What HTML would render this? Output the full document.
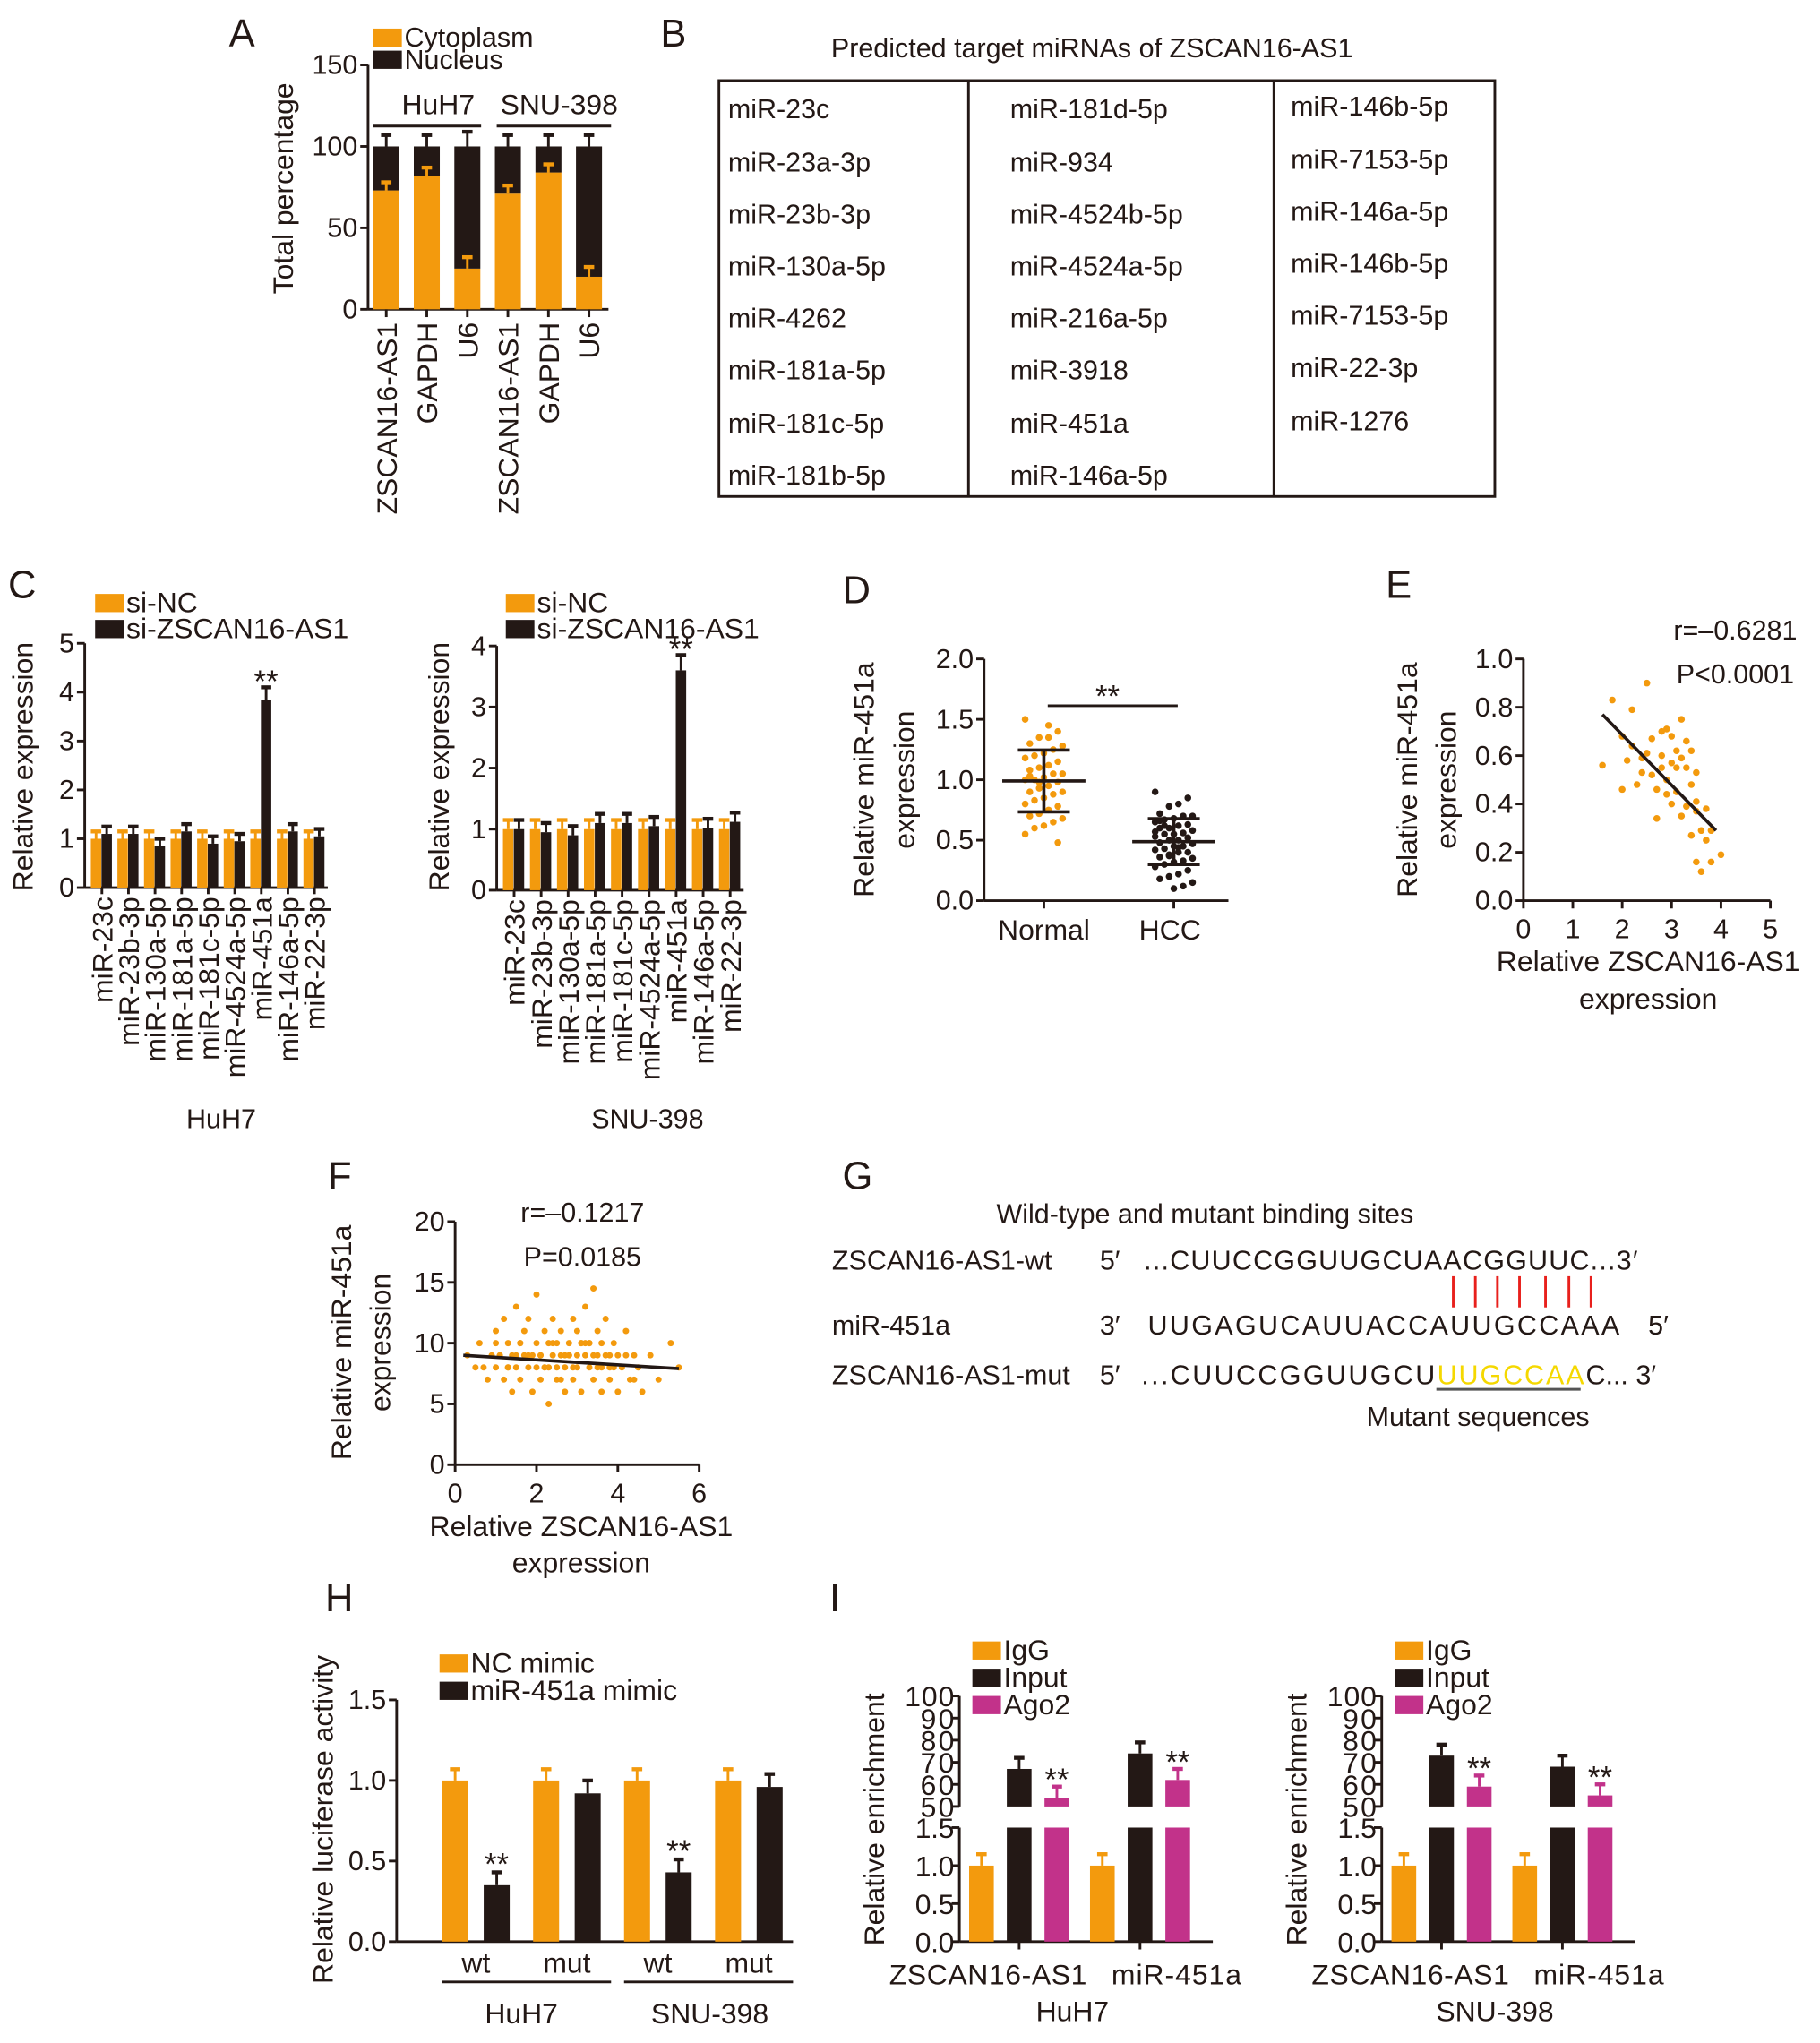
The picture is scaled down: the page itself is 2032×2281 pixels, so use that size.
<!DOCTYPE html>
<html><head><meta charset="utf-8"><style>
html,body{margin:0;padding:0;background:#fff}
svg{display:block}
text{font-family:"Liberation Sans",Arial,sans-serif;fill:#231815}
.t{font-size:21px}.s{font-size:20px}.L{font-size:30px}
</style></head><body>
<svg id="fig" xmlns="http://www.w3.org/2000/svg" width="2032" height="2281" viewBox="0 0 1400 1572">
<rect width="1400" height="1572" fill="#fff"/>
<text class="L" x="176" y="36">A</text>
<text class="L" x="508" y="36">B</text>
<text class="L" x="6" y="460">C</text>
<text class="L" x="648" y="464">D</text>
<text class="L" x="1066" y="460">E</text>
<text class="L" x="252" y="915">F</text>
<text class="L" x="648" y="915">G</text>
<text class="L" x="250" y="1240">H</text>
<text class="L" x="638" y="1240">I</text>

<g>
<text class="t" x="840" y="44" text-anchor="middle">Predicted target miRNAs of ZSCAN16-AS1</text>
<rect x="553" y="62" width="597" height="320" fill="none" stroke="#231815" stroke-width="2"/>
<line x1="745" y1="62" x2="745" y2="382" stroke="#231815" stroke-width="2"/>
<line x1="980" y1="62" x2="980" y2="382" stroke="#231815" stroke-width="2"/>
</g>

<g>
<text class="t" x="927" y="941" text-anchor="middle">Wild-type and mutant binding sites</text>
<text class="t" x="640" y="977">ZSCAN16-AS1-wt</text><text class="t" x="846" y="977">5′</text>
<text class="t" x="880" y="977" textLength="380">...CUUCCGGUUGCUAACGGUUC...3′</text>
<text class="t" x="640" y="1027">miR-451a</text><text class="t" x="846" y="1027">3′</text>
<text class="t" x="883" y="1027" textLength="363">UUGAGUCAUUACCAUUGCCAAA</text><text class="t" x="1268" y="1027">5′</text>
<text class="t" x="640" y="1065">ZSCAN16-AS1-mut</text><text class="t" x="846" y="1065">5′</text>
<text class="t" x="878" y="1065"><tspan textLength="226">...CUUCCGGUUGCU</tspan><tspan style="fill:#f5d800" textLength="113">UUGCCAA</tspan><tspan>C... 3′</tspan></text>
<line x1="1105" y1="1069" x2="1216" y2="1069" stroke="#555" stroke-width="2"/>
<text class="t" x="1137" y="1097" text-anchor="middle">Mutant sequences</text>
<g stroke="#e8201c" stroke-width="2">
<line x1="1118" y1="982" x2="1118" y2="1006"/><line x1="1135" y1="982" x2="1135" y2="1006"/><line x1="1152" y1="982" x2="1152" y2="1006"/><line x1="1169" y1="982" x2="1169" y2="1006"/><line x1="1189" y1="982" x2="1189" y2="1006"/><line x1="1207" y1="982" x2="1207" y2="1006"/><line x1="1224" y1="982" x2="1224" y2="1006"/>
</g>
</g>
</svg>
<script>
const NS='http://www.w3.org/2000/svg';
const svg=document.getElementById('fig');
const OR='#f39a0d',BK='#231815',MG='#c2328a';
function mk(tag,a,p){const e=document.createElementNS(NS,tag);for(const k in a)e.setAttribute(k,a[k]);(p||svg).appendChild(e);return e;}
function tx(x,y,s,a,p){const e=mk('text',Object.assign({x:x,y:y},a||{}),p);e.textContent=s;return e;}
function ln(x1,y1,x2,y2,c,w,p){return mk('line',{x1,y1,x2,y2,stroke:c||BK,'stroke-width':w||2},p);}
function yAxis(g,x,sc,ticks,labels,y0,y1){ln(x,y0,x,y1,BK,2,g);ticks.forEach((t,i)=>{const y=sc(t);ln(x-6,y,x,y,BK,2,g);tx(x-8,y+7,labels[i],{'text-anchor':'end','font-size':21},g);});}
function bar(g,cx,w,y0,y,c){return mk('rect',{x:cx-w/2,y:Math.min(y,y0),width:w,height:Math.abs(y0-y),fill:c},g);}
function err(g,cx,y,y2,c){ln(cx,y,cx,y2,c,2,g);ln(cx-4,y2,cx+4,y2,c,3,g);}
function vtitle(g,x,y,s){return tx(x,y,s,{transform:`rotate(-90 ${x} ${y})`,'text-anchor':'middle','font-size':22},g);}
function legend(g,x,y,c,s,fs){mk('rect',{x:x,y:y-13,width:22,height:14,fill:c},g);tx(x+24,y+1,s,{'font-size':fs||21},g);}

// ===== Panel A =====
const aCats=['ZSCAN16-AS1','GAPDH','U6','ZSCAN16-AS1','GAPDH','U6'];
const aCyto=[73,82,25,71,84,20];
const aCytoErr=[5,5,7,5,5,6];
const aNucErr=[7,7,9,7,7,7];
const aTicks=[0,50,100,150];
const gA=mk('g',{});


const yA=v=>238-v*188/150;
yAxis(gA,283,yA,aTicks,aTicks.map(String),238,50);
ln(283,238,468,238,BK,2,gA);
aCats.forEach((c,i)=>{const cx=297+i*31.2;
 const b1=bar(gA,cx,20,yA(0),yA(aCyto[i]),OR);
 
 
 const b2=bar(gA,cx,20,yA(aCyto[i]),yA(100),BK);
 
 
 err(gA,cx,yA(aCyto[i]),yA(aCyto[i]+aCytoErr[i]),OR);
 err(gA,cx,yA(100),yA(100+aNucErr[i]),BK);
 ln(cx,238,cx,244,BK,2,gA);
 const t=tx(cx+8,248,c,{'text-anchor':'end','font-size':22,transform:`rotate(-90 ${cx+8} 248)`},gA);
 
 
});
ln(287,97,370,97,BK,2,gA);ln(382,97,470,97,BK,2,gA);
tx(337,88,'HuH7',{'text-anchor':'middle','font-size':22},gA);tx(430,88,'SNU-398',{'text-anchor':'middle','font-size':22},gA);
legend(gA,287,35,OR,'Cytoplasm');legend(gA,287,52,BK,'Nucleus');
vtitle(gA,225,145,'Total percentage');

// ===== Panel B =====
const bCol1=['miR-23c','miR-23a-3p','miR-23b-3p','miR-130a-5p','miR-4262','miR-181a-5p','miR-181c-5p','miR-181b-5p'];
const bCol2=['miR-181d-5p','miR-934','miR-4524b-5p','miR-4524a-5p','miR-216a-5p','miR-3918','miR-451a','miR-146a-5p'];
const bCol3=['miR-146b-5p','miR-7153-5p','miR-146a-5p','miR-146b-5p','miR-7153-5p','miR-22-3p','miR-1276'];
const rowsY=[91,132,172,212,252,292,333,373];
[[bCol1,560],[bCol2,777],[bCol3,993]].forEach(([col,x])=>col.forEach((s,i)=>{
 const t=tx(x,rowsY[i]-(x===993?2:0),s,{'font-size':21});
 
 
}));

// ===== Panel C =====
const cCats=['miR-23c','miR-23b-3p','miR-130a-5p','miR-181a-5p','miR-181c-5p','miR-4524a-5p','miR-451a','miR-146a-5p','miR-22-3p'];
const cLNC=[1.0,1.0,1.0,1.0,1.0,1.0,1.0,1.0,1.0];
const cLsi=[1.1,1.1,0.85,1.15,0.9,0.95,3.85,1.15,1.05];
const cRNC=[1.0,1.0,1.0,1.0,1.0,1.0,1.0,1.0,1.0];
const cRsi=[1.0,0.95,0.9,1.1,1.1,1.05,3.6,1.02,1.12];
const cLTicks=[0,1,2,3,4,5],cRTicks=[0,1,2,3,4];
function panelC(name,ax,y0,ymax,pxPer,ticks,nc,si,x0,x1,leg){
 const g=mk('g',{});
 
 
 const sc=v=>y0-v*pxPer;
 yAxis(g,ax,sc,ticks,ticks.map(String),y0,sc(ymax));
 ln(ax,y0,x1,y0,BK,2,g);
 const gw=(x1-x0)/cCats.length;
 cCats.forEach((c,i)=>{const gx=x0+i*gw;
  const b1=bar(g,gx+gw*0.28,8,y0,sc(nc[i]),OR);
  
  
  err(g,gx+gw*0.28,sc(nc[i]),sc(nc[i]+0.15),OR);
  const b2=bar(g,gx+gw*0.68,8,y0,sc(si[i]),BK);
  
  
  err(g,gx+gw*0.68,sc(si[i]),sc(si[i]+(si[i]>2?0.25:0.15)),BK);
  if(si[i]>2)tx(gx+gw*0.68,sc(si[i]+0.25)+4,'**',{'text-anchor':'middle','font-size':24},g);
  const cx=gx+gw*0.5;ln(cx,y0,cx,y0+5,BK,2,g);
  tx(cx+8,y0+7,c,{'text-anchor':'end','font-size':22,transform:`rotate(-90 ${cx+8} ${y0+7})`},g);
 });
 legend(g,leg,470,OR,'si-NC',22);legend(g,leg,490,BK,'si-ZSCAN16-AS1',22);
 return g;
}
const gCL=panelC('panel-c-huh7-chart',65,683,5,37.6,cLTicks,cLNC,cLsi,68,252,73);
vtitle(gCL,25,590,'Relative expression');tx(170,868,'HuH7',{'text-anchor':'middle','font-size':21},gCL);
const gCR=panelC('panel-c-snu398-chart',382,685,4,47,cRTicks,cRNC,cRsi,385,572,389);
vtitle(gCR,345,590,'Relative expression');tx(498,868,'SNU-398',{'text-anchor':'middle','font-size':21},gCR);

// ===== Panel D =====
const dNormal=[1.5,1.4,1.35,1.35,1.3,1.28,1.25,1.22,1.2,1.18,1.15,1.12,1.1,1.08,1.05,1.05,1.02,1.0,1.0,0.98,0.95,0.93,0.9,0.9,0.88,0.85,0.83,0.8,0.78,0.75,0.72,0.7,0.68,0.65,0.62,0.6,0.55,0.48,1.45,0.98,1.03];
const dHCC=[0.9,0.85,0.8,0.78,0.72,0.7,0.7,0.68,0.67,0.65,0.63,0.62,0.6,0.6,0.58,0.56,0.55,0.55,0.53,0.52,0.5,0.5,0.48,0.47,0.45,0.45,0.43,0.42,0.4,0.4,0.38,0.36,0.35,0.33,0.32,0.3,0.28,0.25,0.22,0.2,0.18,0.15,0.12,0.1,0.62,0.57,0.52,0.44,0.37,0.66];
const dTicks=[0,0.5,1,1.5,2];
const gD=mk('g',{});


const yD=v=>693-v*93;
yAxis(gD,757,yD,dTicks,['0.0','0.5','1.0','1.5','2.0'],693,yD(2));
ln(757,693,945,693,BK,2,gD);
function swarm(vals,cx,c,nm){const mean=vals.reduce((a,b)=>a+b,0)/vals.length;
 const sd=Math.sqrt(vals.reduce((a,b)=>a+(b-mean)**2,0)/vals.length);
 vals.forEach((v,i)=>{const off=((i*7)%9-4)*3.6;
  const p=mk('circle',{cx:cx+off,cy:yD(v),r:2.6,fill:c},gD);
  
  });
 ln(cx-32,yD(mean),cx+32,yD(mean),BK,2.5,gD);
 ln(cx,yD(mean-sd),cx,yD(mean+sd),BK,2.5,gD);
 ln(cx-20,yD(mean-sd),cx+20,yD(mean-sd),BK,2.5,gD);
 ln(cx-20,yD(mean+sd),cx+20,yD(mean+sd),BK,2.5,gD);
}
swarm(dNormal,803,OR,'point-normal');swarm(dHCC,903,BK,'point-hcc');
ln(806,543,906,543,BK,2,gD);tx(852,544,'**',{'text-anchor':'middle','font-size':24},gD);
ln(803,693,803,699,BK,2,gD);ln(903,693,903,699,BK,2,gD);
tx(803,723,'Normal',{'text-anchor':'middle','font-size':22},gD);tx(900,723,'HCC',{'text-anchor':'middle','font-size':22},gD);
vtitle(gD,672,600,'Relative miR-451a');vtitle(gD,703,600,'expression');

// ===== Panel E =====
const eX=[1.6,1.8,2.0,2.0,2.1,2.2,2.2,2.3,2.4,2.5,2.5,2.6,2.6,2.7,2.7,2.8,2.8,2.8,2.9,2.9,2.9,3.0,3.0,3.0,3.1,3.1,3.1,3.2,3.2,3.2,3.3,3.3,3.3,3.4,3.4,3.5,3.5,3.5,3.6,3.6,3.7,3.7,3.8,3.8,4.0,3.4,3.5,2.4];
const eY=[0.56,0.83,0.46,0.68,0.58,0.79,0.64,0.48,0.53,0.9,0.61,0.67,0.52,0.46,0.34,0.7,0.6,0.55,0.71,0.5,0.44,0.68,0.57,0.4,0.62,0.55,0.45,0.75,0.59,0.35,0.66,0.55,0.39,0.48,0.27,0.53,0.16,0.37,0.12,0.29,0.25,0.38,0.16,0.29,0.19,0.62,0.41,0.59];
const eFit=[1.6,0.77,3.9,0.29];
const eXT=[0,1,2,3,4,5],eYT=[0,0.2,0.4,0.6,0.8,1.0];
const gE=mk('g',{});


const xE=v=>1172+v*38,yE=v=>693-v*186;
yAxis(gE,1172,yE,eYT,['0.0','0.2','0.4','0.6','0.8','1.0'],693,yE(1));
ln(1172,693,xE(5),693,BK,2,gE);
eXT.forEach(t=>{ln(xE(t),693,xE(t),699,BK,2,gE);tx(xE(t),722,String(t),{'text-anchor':'middle','font-size':21},gE);});
eX.forEach((x,i)=>{const p=mk('circle',{cx:xE(x),cy:yE(eY[i]),r:2.6,fill:OR},gE);
 
 });
ln(xE(eFit[0]),yE(eFit[1]),xE(eFit[2]),yE(eFit[3]),BK,2.5,gE);
tx(1335,492,'r=–0.6281',{'text-anchor':'middle','font-size':21},gE);tx(1335,526,'P<0.0001',{'text-anchor':'middle','font-size':21},gE);
vtitle(gE,1090,600,'Relative miR-451a');vtitle(gE,1120,600,'expression');
tx(1268,747,'Relative ZSCAN16-AS1',{'text-anchor':'middle','font-size':22},gE);tx(1268,776,'expression',{'text-anchor':'middle','font-size':22},gE);

// ===== Panel F =====
const fX=[0.3,0.5,0.6,0.8,0.9,1.0,1.0,1.1,1.2,1.2,1.3,1.3,1.4,1.4,1.5,1.5,1.6,1.6,1.7,1.7,1.8,1.8,1.9,1.9,2.0,2.0,2.0,2.1,2.1,2.2,2.2,2.3,2.3,2.4,2.4,2.5,2.5,2.5,2.6,2.6,2.7,2.7,2.8,2.8,2.9,2.9,3.0,3.0,3.0,3.1,3.1,3.2,3.2,3.3,3.3,3.4,3.4,3.5,3.5,3.5,3.6,3.6,3.7,3.7,3.8,3.8,3.9,4.0,4.0,4.1,4.2,4.3,4.4,4.5,4.6,4.8,5.0,5.3,5.5,1.0,1.5,2.2,2.7,3.2,3.6,1.8,2.4,2.9,3.4,1.3,2.1,2.6,3.1,3.8,4.2,0.7,1.1,1.6,2.3,2.8,3.3,3.9,4.4];
const fY=[9,8,10,7,9,11,8,9,12,7,10,8,9,6,13,8,10,7,9,11,8,12,9,6,10,8,14,9,7,11,8,10,5,9,12,8,10,7,9,11,8,6,10,9,12,7,9,11,8,10,6,9,13,8,10,7,14.5,9,11,8,10,6,9,12,8,7,10,9,6,8,11,7,9,8,6,9,7,10,8,10,9,8,9,10,8,9,10,8,9,8,9,7,10,9,9,8,9,10,8,9,10,8,7];
const fFit=[0.2,9.0,5.5,7.9];
const fXT=[0,2,4,6],fYT=[0,5,10,15,20];
const gF=mk('g',{});


const xF=v=>350+v*31.3,yF=v=>1127-v*9.35;
yAxis(gF,350,yF,fYT,fYT.map(String),1127,yF(20));
ln(350,1127,xF(6),1127,BK,2,gF);
fXT.forEach(t=>{ln(xF(t),1127,xF(t),1133,BK,2,gF);tx(xF(t),1156,String(t),{'text-anchor':'middle','font-size':21},gF);});
fX.forEach((x,i)=>{const p=mk('circle',{cx:xF(x),cy:yF(fY[i]),r:2.4,fill:OR},gF);
 
 });
ln(xF(fFit[0]),yF(fFit[1]),xF(fFit[2]),yF(fFit[3]),BK,2.5,gF);
tx(448,940,'r=–0.1217',{'text-anchor':'middle','font-size':21},gF);tx(448,974,'P=0.0185',{'text-anchor':'middle','font-size':21},gF);
vtitle(gF,270,1033,'Relative miR-451a');vtitle(gF,300,1033,'expression');
tx(447,1182,'Relative ZSCAN16-AS1',{'text-anchor':'middle','font-size':22},gF);tx(447,1210,'expression',{'text-anchor':'middle','font-size':22},gF);

// ===== Panel H =====
const hCats=['wt','mut','wt','mut'];
const hNC=[1.0,1.0,1.0,1.0];
const hMimic=[0.35,0.92,0.43,0.96];
const hTicks=[0,0.5,1,1.5];
const gH=mk('g',{});


const yH=v=>1494-v*124;
yAxis(gH,305,yH,hTicks,['0.0','0.5','1.0','1.5'],1494,yH(1.5));
ln(305,1494,610,1494,BK,2,gH);
hCats.forEach((c,i)=>{const gx=350+i*70;
 const b1=bar(gH,gx,20,1494,yH(hNC[i]),OR);
 
 
 err(gH,gx,yH(hNC[i]),yH(hNC[i]+0.07),OR);
 const b2=bar(gH,gx+32,20,1494,yH(hMimic[i]),BK);
 
 
 err(gH,gx+32,yH(hMimic[i]),yH(hMimic[i]+0.08),BK);
 if(hMimic[i]<0.6)tx(gx+32,yH(hMimic[i]+0.08)+2,'**',{'text-anchor':'middle','font-size':24},gH);
 tx(gx+16,1518,c,{'text-anchor':'middle','font-size':22},gH);
});
ln(340,1525,470,1525,BK,2,gH);ln(480,1525,610,1525,BK,2,gH);
tx(401,1557,'HuH7',{'text-anchor':'middle','font-size':22},gH);tx(546,1557,'SNU-398',{'text-anchor':'middle','font-size':22},gH);
legend(gH,338,1286,OR,'NC mimic',22);legend(gH,338,1307,BK,'miR-451a mimic',22);
vtitle(gH,256,1400,'Relative luciferase activity');

// ===== Panel I =====
const iCats=['ZSCAN16-AS1','miR-451a'];
const iHuIgG=[1.0,1.0],iHuInput=[67,74],iHuAgo2=[54,62];
const iSnIgG=[1.0,1.0],iSnInput=[73,68],iSnAgo2=[59,55];
const iLowT=[0,0.5,1,1.5],iHighT=[50,60,70,80,90,100];
function panelI(name,ax,igg,inp,ago){
 const g=mk('g',{});
 
 
 const yl=v=>1494-v*58.5, yh=v=>1390-(v-50)*1.7;
 ln(ax,1494,ax,yl(1.5),BK,2,g);ln(ax,1390,ax,yh(100),BK,2,g);
 iLowT.forEach(t=>{ln(ax-6,yl(t),ax,yl(t),BK,2,g);tx(ax-4,yl(t)+8,t.toFixed(1),{'text-anchor':'end','font-size':22,textLength:30},g);});
 iHighT.forEach(t=>{ln(ax-6,yh(t),ax,yh(t),BK,2,g);tx(ax-4,yh(t)+8,String(t),{'text-anchor':'end','font-size':22,textLength:t==100?38:26},g);});
 ln(ax,1494,ax+195,1494,BK,2,g);
 const labOff=[5,57];
 iCats.forEach((c,i)=>{const gx=ax+17+i*93;
  const b1=bar(g,gx,19,1494,yl(igg[i]),OR);
  
  
  err(g,gx,yl(igg[i]),yl(igg[i]+0.15),OR);
  [[inp[i],BK,'bar-input',gx+29],[ago[i],MG,'bar-ago2',gx+58]].forEach(([v,col,nm,cx])=>{
   const a=bar(g,cx,19,1494,yl(1.5),col);
   
   
   const b=bar(g,cx,19,1390,yh(v),col);
   
   
   err(g,cx,yh(v),yh(v+5),col);
  });
  tx(gx+58,yh(ago[i]+5)+3,'**',{'text-anchor':'middle','font-size':24},g);
  ln(gx+29,1494,gx+29,1500,BK,2,g);
  tx(gx+labOff[i],1527,c,{'text-anchor':'middle','font-size':22,textLength:i==0?152:100},g);
 });
 legend(g,ax+10,1276,OR,'IgG',22);legend(g,ax+10,1297,BK,'Input',22);legend(g,ax+10,1318,MG,'Ago2',22);
 return g;
}
const gI1=panelI('panel-i-huh7-chart',738,iHuIgG,iHuInput,iHuAgo2);
vtitle(gI1,680,1400,'Relative enrichment');tx(825,1555,'HuH7',{'text-anchor':'middle','font-size':22},gI1);
const gI2=panelI('panel-i-snu398-chart',1063,iSnIgG,iSnInput,iSnAgo2);
vtitle(gI2,1005,1400,'Relative enrichment');tx(1150,1555,'SNU-398',{'text-anchor':'middle','font-size':22},gI2);
</script>
</body></html>
